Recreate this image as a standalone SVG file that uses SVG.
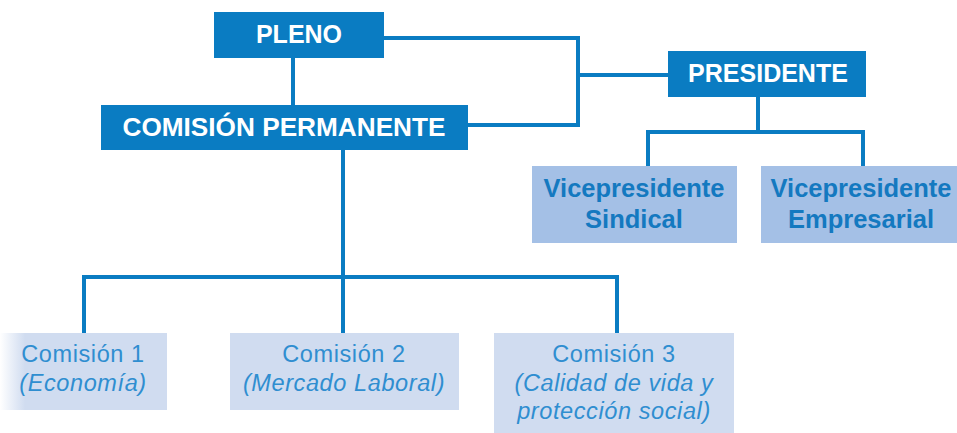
<svg xmlns="http://www.w3.org/2000/svg" width="957" height="433" viewBox="0 0 957 433">
<defs>
<style>
.dark{fill:#0a7cc2}
.vice{fill:#a4c0e6}
.com{fill:#d0dcf0}
.hdr{font-family:"Liberation Sans",Arial,sans-serif;font-weight:bold;font-size:25px;fill:#ffffff;text-anchor:middle}
.vt{font-family:"Liberation Sans",Arial,sans-serif;font-weight:bold;font-size:25.5px;fill:#1479c0;text-anchor:middle}
.ct{font-family:"Liberation Sans",Arial,sans-serif;font-size:23.5px;letter-spacing:0.6px;fill:#2f8ed0;text-anchor:middle}
.it{font-style:italic}
.conn{fill:none;stroke:#0a7cc2;stroke-width:4}
</style>
<linearGradient id="fade" x1="0" y1="0" x2="1" y2="0">
<stop offset="0" stop-color="#d0dcf0" stop-opacity="0"/>
<stop offset="0.15" stop-color="#d0dcf0" stop-opacity="1"/>
<stop offset="1" stop-color="#d0dcf0" stop-opacity="1"/>
</linearGradient>
</defs>
<g id="connectors">
<path class="conn" d="M293 58 V105"/>
<path class="conn" d="M384 38 H578 V125 H468"/>
<path class="conn" d="M578 75 H668"/>
<path class="conn" d="M758 97 V132"/>
<path class="conn" d="M648 166 V132 H863 V166"/>
<path class="conn" d="M343 150 V277"/>
<path class="conn" d="M84 333 V277 H617 V333"/>
<path class="conn" d="M343 277 V333"/>
</g>
<g id="pleno">
<rect class="dark" x="214" y="12" width="170" height="46"/>
<text class="hdr" x="299" y="43">PLENO</text>
</g>
<g id="comision-permanente">
<rect class="dark" x="101" y="105" width="367" height="45"/>
<text class="hdr" x="284" y="136" style="font-size:26.2px">COMISIÓN PERMANENTE</text>
</g>
<g id="presidente">
<rect class="dark" x="668" y="51" width="198" height="46"/>
<text class="hdr" x="768" y="82">PRESIDENTE</text>
</g>
<g id="vice-sindical">
<rect class="vice" x="532" y="166" width="205" height="77"/>
<text class="vt" x="634" y="197">Vicepresidente</text>
<text class="vt" x="634" y="228">Sindical</text>
</g>
<g id="vice-empresarial">
<rect class="vice" x="761" y="166" width="200" height="77"/>
<text class="vt" x="861" y="197">Vicepresidente</text>
<text class="vt" x="861" y="228">Empresarial</text>
</g>
<g id="comision1">
<rect x="0" y="333" width="167" height="77" fill="url(#fade)"/>
<text class="ct" x="83" y="362">Comisión 1</text>
<text class="ct it" x="83" y="391">(Economía)</text>
</g>
<g id="comision2">
<rect class="com" x="230" y="333" width="229" height="77"/>
<text class="ct" x="344" y="362">Comisión 2</text>
<text class="ct it" x="344" y="391">(Mercado Laboral)</text>
</g>
<g id="comision3">
<rect class="com" x="494" y="333" width="240" height="100"/>
<text class="ct" x="614" y="362">Comisión 3</text>
<text class="ct it" x="614" y="391">(Calidad de vida y</text>
<text class="ct it" x="614" y="419">protección social)</text>
</g>
</svg>
